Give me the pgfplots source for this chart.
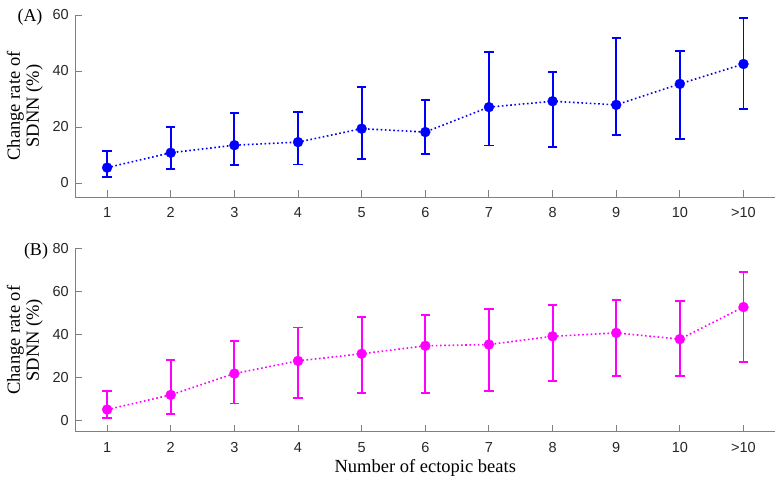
\documentclass[border=0pt]{standalone}
\usepackage{fontspec}
\setmainfont{Liberation Serif}
\setsansfont{Liberation Sans}
\usepackage{pgfplots}
\usepackage{pgfplotstable}
\pgfplotsset{compat=1.18}

% x  mean  plus  minus
\pgfplotstableread{
x y ep em
1 5.5 5.9 3.4
2 10.8 9.1 5.7
3 13.5 11.4 7.2
4 14.6 10.8 8.0
5 19.4 14.8 10.8
6 18.2 11.3 7.9
7 27.1 19.7 13.7
8 29.2 10.6 16.4
9 27.9 24.0 10.7
10 35.4 11.6 19.8
11 42.5 16.3 16.0
}\dataA

\pgfplotstableread{
x y ep em
1 5.3 8.4 3.9
2 12.1 16.0 8.7
3 22.0 15.2 13.9
4 27.9 15.5 17.2
5 31.2 17.0 18.2
6 34.9 14.3 22.0
7 35.5 16.3 21.4
8 39.3 14.5 20.7
9 40.9 15.1 20.1
10 38.0 17.7 17.2
11 52.9 16.4 25.5
}\dataB

\definecolor{mblue}{RGB}{0,0,255}
\definecolor{mmag}{RGB}{255,0,255}

\pgfplotsset{
  panel/.style={
    scale only axis, width=700pt,
    axis x line=bottom, axis y line=left,
    axis line style={-, black!50, line width=0.9pt},
    every tick/.style={black!50, line width=0.9pt},
    tick align=inside, major tick length=7pt,
    xmin=0.5, xmax=11.5, ymin=-5,
    xtick={1,...,11},
    xticklabels={1,2,3,4,5,6,7,8,9,10,>10},
    tick label style={font=\sffamily\fontsize{14.5}{16}\selectfont, text=black!85},
    /pgf/number format/assume math mode=true,
    xticklabel style={yshift=-7pt},
    yticklabel style={xshift=-3pt},
    ylabel={Change rate of\\SDNN (\%)},
    ylabel style={at={(axis description cs:-0.072,0.5)}, anchor=center, align=center,
      font=\fontsize{18.5}{19}\selectfont},
  },
  series/.style={
    line width=1.6pt, dash pattern=on 1.6pt off 2.6pt, color=#1,
    mark=*, mark size=5pt, mark options={solid, fill=#1, line width=0.3pt},
    error bars/.cd, y dir=both, y explicit,
      error bar style={line width=1.9pt, solid, color=#1},
      error mark options={rotate=90, mark size=4.7pt, line width=1.9pt, solid, color=#1},
  },
}

\begin{document}
\begin{tikzpicture}
  \begin{axis}[panel, at={(0pt,234.7pt)}, anchor=south west, height=182pt,
      ymax=60, ytick={0,20,40,60}]
    \addplot[series=mblue] table[x=x, y=y, y error plus=ep, y error minus=em] {\dataA};
  \end{axis}

  \begin{axis}[panel, at={(0pt,0pt)}, anchor=south west, height=183pt,
      ymax=80, ytick={0,20,40,60,80},
      xlabel={Number of ectopic beats},
      xlabel style={at={(axis description cs:0.5,0)}, anchor=center, yshift=-36.5pt,
        font=\fontsize{18.5}{19}\selectfont}]
    \addplot[series=mmag] table[x=x, y=y, y error plus=ep, y error minus=em] {\dataB};
  \end{axis}

  \node[font=\fontsize{18}{20}\selectfont] at (-45.3pt,414.7pt) {(A)};
  \node[font=\fontsize{18}{20}\selectfont] at (-39.3pt,180.7pt) {(B)};

  \pgfresetboundingbox
  \path[use as bounding box] (-75.3pt,-59.3pt) rectangle (708.7pt,431.7pt);
\end{tikzpicture}
\end{document}
